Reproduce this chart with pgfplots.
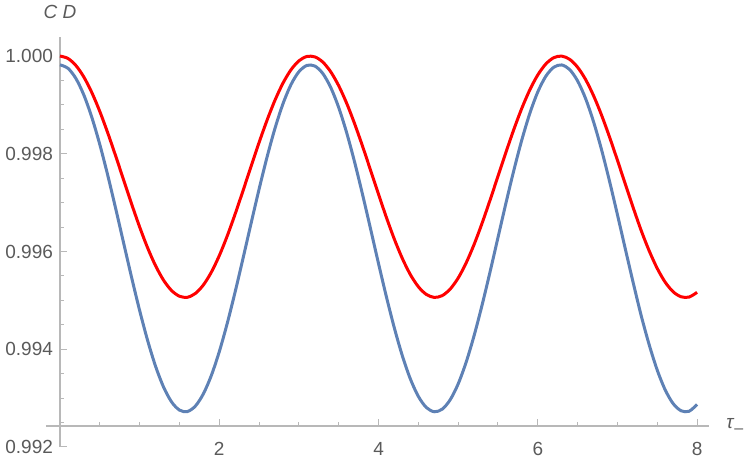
\documentclass[border=0pt]{standalone}
\usepackage{fontspec}
\setmainfont{Liberation Sans}
\usepackage{pgfplots}
\pgfplotsset{compat=1.18}
\definecolor{mblue}{HTML}{5E81B5}
\definecolor{axgray}{HTML}{B8B8B8}
\definecolor{lblgray}{HTML}{5A5A5A}
\begin{document}
\begin{tikzpicture}
\begin{axis}[
  name=ax,
  scale only axis, width=331.5pt, height=205pt,
  xmin=-0.176, xmax=8.15, ymin=0.992, ymax=1.00039,
  axis x line=bottom, axis y line=left,
  axis x line shift=-10.5pt, axis y line shift=-7pt,
  axis line style={-, axgray, line width=0.7pt},
  xtick={2,4,6,8}, xticklabels={2,4,6,8},
  minor xtick={0.5,1,1.5,2.5,3,3.5,4.5,5,5.5,6.5,7,7.5},
  ytick={0.992,0.994,0.996,0.998,1.0},
  yticklabels={0.992,0.994,0.996,0.998,1.000},
  minor ytick={0.9925,0.993,0.9935,0.9945,0.995,0.9955,0.9965,0.997,0.9975,0.9985,0.999,0.9995},
  tick align=inside, major tick length=3.5pt, minor tick length=2pt,
  tick style={axgray, line width=0.5pt},
  tick label style={font=\fontsize{9.5}{11}\selectfont, text=lblgray},
  /pgf/number format/assume math mode=true,
  xticklabel style={yshift=-4.5pt},
  clip=false,
]
% CD, red curve
\addplot[red, line width=1.5pt, smooth] coordinates {
(0,1.000000) (0.1,0.999951) (0.2,0.999805) (0.3,0.999569) (0.4,0.999251)
(0.5,0.998865) (0.6,0.998425) (0.7,0.997950) (0.8,0.997458) (0.9,0.996969)
(1.0,0.996502) (1.1,0.996076) (1.2,0.995709) (1.3,0.995414) (1.4,0.995203)
(1.5,0.995085) (1.6,0.995064) (1.7,0.995142) (1.8,0.995315) (1.9,0.995576)
(2.0,0.995915) (2.1,0.996319) (2.2,0.996771) (2.3,0.997253) (2.4,0.997746)
(2.5,0.998231) (2.6,0.998687) (2.7,0.999098) (2.8,0.999446) (2.9,0.999717)
(3.0,0.999902) (3.1,0.999991) (3.2,0.999983) (3.3,0.999877) (3.4,0.999677)
(3.5,0.999392) (3.6,0.999033) (3.7,0.998613) (3.8,0.998151) (3.9,0.997663)
(4.0,0.997171) (4.1,0.996692) (4.2,0.996247) (4.3,0.995854) (4.4,0.995527)
(4.5,0.995280) (4.6,0.995122) (4.7,0.995061) (4.8,0.995098) (4.9,0.995232)
(5.0,0.995457) (5.1,0.995766) (5.2,0.996144) (5.3,0.996578) (5.4,0.997050)
(5.5,0.997541) (5.6,0.998031) (5.7,0.998502) (5.8,0.998934) (5.9,0.999309)
(6.0,0.999614) (6.1,0.999836) (6.2,0.999966) (6.3,0.999999) (6.4,0.999933)
(6.5,0.999771) (6.6,0.999521) (6.7,0.999190) (6.8,0.998794) (6.9,0.998347)
(7.0,0.997868) (7.1,0.997375) (7.2,0.996888) (7.3,0.996423) (7.4,0.996010)
(7.5,0.995654) (7.6,0.995372) (7.7,0.995176) (7.8,0.995074) (7.9,0.995068)
(8.0,0.995165)
};
% blue curve
\addplot[mblue, line width=1.5pt, smooth] coordinates {
(0,0.999820) (0.1,0.999749) (0.2,0.999540) (0.3,0.999200) (0.4,0.998743)
(0.5,0.998188) (0.6,0.997556) (0.7,0.996873) (0.8,0.996166) (0.9,0.995463)
(1.0,0.994793) (1.1,0.994181) (1.2,0.993652) (1.3,0.993228) (1.4,0.992925)
(1.5,0.992755) (1.6,0.992726) (1.7,0.992838) (1.8,0.993087) (1.9,0.993462)
(2.0,0.993950) (2.1,0.994530) (2.2,0.995179) (2.3,0.995872) (2.4,0.996581)
(2.5,0.997277) (2.6,0.997933) (2.7,0.998523) (2.8,0.999023) (2.9,0.999414)
(3.0,0.999679) (3.1,0.999808) (3.2,0.999796) (3.3,0.999643) (3.4,0.999356)
(3.5,0.998946) (3.6,0.998430) (3.7,0.997827) (3.8,0.997162) (3.9,0.996462)
(4.0,0.995753) (4.1,0.995066) (4.2,0.994427) (4.3,0.993861) (4.4,0.993391)
(4.5,0.993035) (4.6,0.992809) (4.7,0.992721) (4.8,0.992774) (4.9,0.992967)
(5.0,0.993291) (5.1,0.993734) (5.2,0.994279) (5.3,0.994902) (5.4,0.995580)
(5.5,0.996286) (5.6,0.996991) (5.7,0.997667) (5.8,0.998287) (5.9,0.998828)
(6.0,0.999266) (6.1,0.999584) (6.2,0.999771) (6.3,0.999818) (6.4,0.999724)
(6.5,0.999491) (6.6,0.999131) (6.7,0.998656) (6.8,0.998087) (6.9,0.997444)
(7.0,0.996755) (7.1,0.996047) (7.2,0.995348) (7.3,0.994679) (7.4,0.994086)
(7.5,0.993573) (7.6,0.993168) (7.7,0.992887) (7.8,0.992741) (7.9,0.992731)
(8.0,0.992870)
};
\node[font=\fontsize{9.5}{11}\selectfont\itshape, text=lblgray] at ([yshift=12.5pt]axis cs:0,1.00039) {C D};
\node[anchor=west, inner sep=0pt, font=\fontsize{9.5}{11}\selectfont, text=lblgray]
  at ([xshift=8.5pt]axis cs:8.15,0.99243) {\textit{τ}\raisebox{-0.45ex}{\footnotesize –}};
\end{axis}
\pgfresetboundingbox
\path ([shift={(-23pt,-6.5pt)}]ax.south west) rectangle ++(375pt,230pt);
\end{tikzpicture}
\end{document}
